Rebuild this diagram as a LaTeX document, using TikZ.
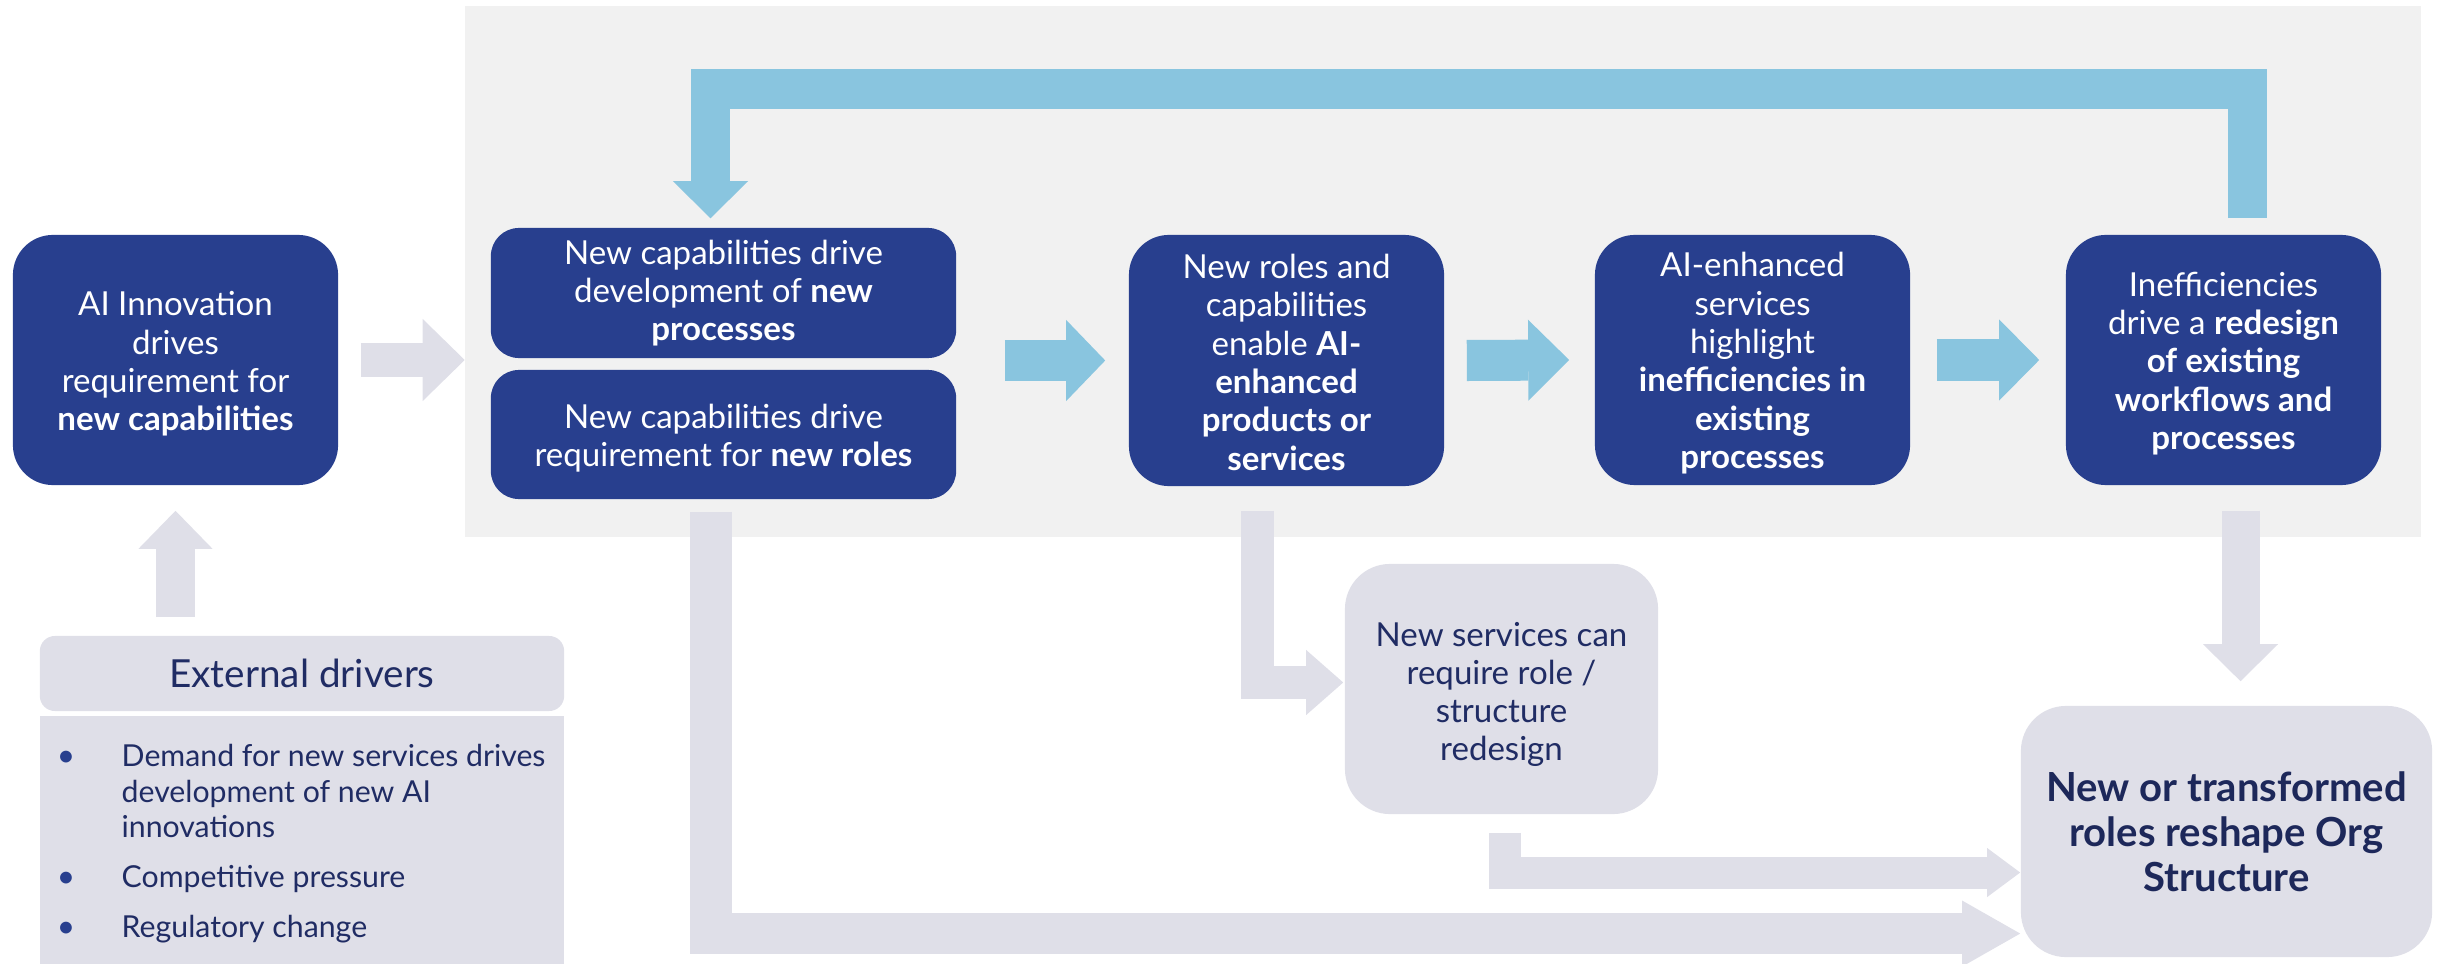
\documentclass[tikz,border=0pt]{standalone}
\usepackage{fontspec}
\setmainfont{Lato}
\usetikzlibrary{arrows.meta}

\definecolor{navy}{RGB}{40,63,142}
\definecolor{skyarrow}{RGB}{137,197,223}
\definecolor{lilac}{RGB}{223,223,232}
\definecolor{panelgray}{RGB}{241,241,241}
\definecolor{inknavy}{RGB}{32,44,100}

% invisible strut that makes the first line of a box a little taller
\newcommand\firstlift[1]{\rule{0pt}{#1}}

\begin{document}
\begin{tikzpicture}[x=0.01cm, y=-0.01cm,
  darkbox/.style={fill=navy, text=white, rounded corners=0.4cm, inner sep=0pt,
    align=center, font=\fontsize{9.4}{10.9}\selectfont},
  lightbox/.style={fill=lilac, text=inknavy, rounded corners=0.45cm, inner sep=0pt,
    align=center, font=\fontsize{9.4}{10.9}\selectfont},
  itemtext/.style={text=inknavy, inner sep=0pt, align=left,
    font=\fontsize{8.6}{10}\selectfont},
  itemdot/.style={text=navy, inner sep=0pt, font=\fontsize{9}{10}\selectfont},
  fatarrow/.style n args={4}{draw=#1, line width=#2, line join=miter, line cap=butt,
    -{Triangle[length=#3, width=#4, line width=0pt]}},
]
\useasboundingbox (0,0) rectangle (2443,964);

% shaded band behind the main loop
\node[fill=panelgray, inner sep=0pt, minimum width=19.54cm, minimum height=5.31cm]
  (panel) at (1443,271.5) {};

% main chain of boxes
\node[darkbox, minimum width=3.25cm, minimum height=2.50cm] (ai) at (175.5,360)
  {\firstlift{0.32cm}AI Innovation\\drives\\requirement for\\\textbf{new capabilities}};
\node[darkbox, rounded corners=0.28cm, minimum width=4.65cm, minimum height=1.30cm] (b1) at (723.5,293)
  {New capabilities drive\\development of \textbf{new}\\\textbf{processes}};
\node[darkbox, rounded corners=0.28cm, minimum width=4.65cm, minimum height=1.29cm] (b2) at (723.5,434.5)
  {\firstlift{0.31cm}New capabilities drive\\requirement for \textbf{new roles}};
\node[darkbox, minimum width=3.15cm, minimum height=2.51cm] (b3) at (1286.5,360.5)
  {\firstlift{0.28cm}New roles and\\capabilities\\enable \textbf{AI-}\\\textbf{enhanced}\\\textbf{products or}\\\textbf{services}};
\node[darkbox, minimum width=3.15cm, minimum height=2.50cm] (b4) at (1752.5,360)
  {\firstlift{0.31cm}AI-enhanced\\services\\highlight\\\textbf{inefficiencies in}\\\textbf{existing}\\\textbf{processes}};
\node[darkbox, minimum width=3.15cm, minimum height=2.50cm] (b5) at (2223.5,360)
  {\firstlift{0.31cm}Inefficiencies\\drive a \textbf{redesign}\\\textbf{of existing}\\\textbf{workflows and}\\\textbf{processes}};

% outcome boxes
\node[lightbox, minimum width=3.13cm, minimum height=2.50cm] (svc) at (1501.5,689)
  {\firstlift{0.35cm}New services can\\require role /\\structure\\redesign};
\node[lightbox, minimum width=4.11cm, minimum height=2.51cm,
  font=\fontsize{11.4}{12.8}\selectfont\bfseries, text=inknavy!90!black] (final) at (2226.5,831.5)
  {New or transformed\\roles reshape Org\\Structure};

% external drivers
\node[lightbox, rounded corners=0.15cm, minimum width=5.24cm, minimum height=0.75cm,
  font=\fontsize{11}{12}\selectfont] (ext) at (302,673.5) {External drivers};
\node[fill=lilac, inner sep=0pt, minimum width=5.24cm, minimum height=2.48cm] (bul) at (302,840) {};
\node[itemdot, anchor=base] (d1) at (66,766) {\textbullet};
\node[itemdot, anchor=base] (d2) at (66,887) {\textbullet};
\node[itemdot, anchor=base] (d3) at (66,937) {\textbullet};
\node[itemtext, anchor=north west] (i1) at (121,744)
  {Demand for new services drives\\development of new AI\\innovations};
\node[itemtext, anchor=base west] (i2) at (121,887) {Competitive pressure};
\node[itemtext, anchor=base west] (i3) at (121,937) {Regulatory change};

% forward arrows
\draw[fatarrow={lilac}{0.33cm}{0.42cm}{0.82cm}] ([xshift=0.22cm]ai.east) -- (ai.east -| panel.west);
\draw[fatarrow={skyarrow}{0.41cm}{0.39cm}{0.81cm}] ([xshift=0.48cm]b1.east |- b3.west) -- ([xshift=-0.23cm]b3.west);
\draw[fatarrow={skyarrow}{0.41cm}{0.41cm}{0.81cm}] ([xshift=0.22cm]b3.east) -- ([xshift=-0.25cm]b4.west);
\draw[fatarrow={skyarrow}{0.41cm}{0.40cm}{0.81cm}] ([xshift=0.26cm]b4.east) -- ([xshift=-0.26cm]b5.west);

% feedback loop over the top
\coordinate (looptop) at (0,89);
\coordinate (ls) at ([xshift=0.24cm,yshift=0.16cm]b5.north);
\coordinate (le) at ([xshift=-0.13cm,yshift=0.09cm]b1.north);
\draw[fatarrow={skyarrow}{0.39cm}{0.37cm}{0.75cm}] (ls) -- (ls |- looptop) -| (le);

% external drivers feed the innovation box
\coordinate (us) at ([yshift=0.18cm]ext.north);
\draw[fatarrow={lilac}{0.38cm}{0.38cm}{0.74cm}] (us -| ai.south) -- ([yshift=-0.25cm]ai.south);

% routes down to the org structure
\coordinate (es) at ([xshift=-0.125cm,yshift=-0.12cm]b2.south);
\draw[fatarrow={lilac}{0.41cm}{0.58cm}{0.66cm}] (es) |- ([yshift=-1.02cm]final.west);

\coordinate (fs) at ([xshift=-0.29cm,yshift=-0.24cm]b3.south);
\draw[fatarrow={lilac}{0.32cm}{0.37cm}{0.65cm}] (fs) |- ([xshift=-0.01cm,yshift=0.065cm]svc.west);

\coordinate (gs) at ([xshift=0.03cm,yshift=-0.18cm]svc.south);
\draw[fatarrow={lilac}{0.32cm}{0.33cm}{0.49cm}] (gs) |- ([yshift=-0.41cm]final.west);

\coordinate (hs) at ([xshift=0.17cm,yshift=-0.25cm]b5.south);
\coordinate (he) at ([yshift=0.24cm]final.north);
\draw[fatarrow={lilac}{0.38cm}{0.37cm}{0.75cm}] (hs) -- (hs |- he);
\end{tikzpicture}
\end{document}
